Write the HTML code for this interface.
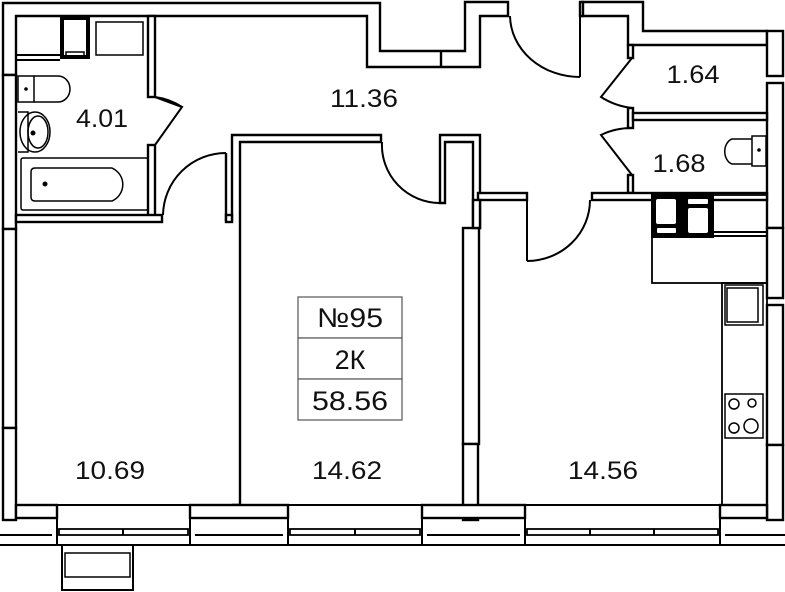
<!DOCTYPE html>
<html><head><meta charset="utf-8"><style>
html,body{margin:0;padding:0;background:#fff;}
svg{display:block;}
text{font-family:"Liberation Sans",sans-serif;fill:#111;}
</style></head><body>
<svg width="785" height="592" viewBox="0 0 785 592" xmlns="http://www.w3.org/2000/svg">
<g fill="#fff" stroke="#000" stroke-width="2.4">
<path d="M3,3 H380 V51 H465 V2 H508 V16 H480 V67 H367 V16 H16 V75 H3 Z"/>
<line x1="441" y1="51" x2="441" y2="67"/>
<path d="M582,2 H643 V31 H767 V45 H628 V16 H582 Z"/>
<rect x="580" y="2" width="3" height="14"/>
<rect x="767" y="31" width="16" height="45"/>
<rect x="767" y="83" width="16" height="145"/>
<rect x="767" y="228" width="16" height="70"/>
<rect x="767" y="305" width="16" height="140"/>
<rect x="767" y="445" width="16" height="75"/>
<rect x="3" y="75" width="13" height="154"/>
<rect x="3" y="229" width="13" height="199"/>
<rect x="3" y="428" width="13" height="92"/>
<rect x="148" y="16" width="7" height="81"/>
<rect x="148" y="145" width="7" height="75"/>
<rect x="16" y="215" width="146" height="7"/>
<path d="M226,153 V220 H232 V135 H381 V142 H240 V505 H232"/>
<rect x="226" y="215" width="6" height="7"/>
<path d="M440,135 H480 V228 H473 V142 H445 V203 H440 Z"/>
<rect x="463" y="228" width="16" height="216"/>
<rect x="463" y="444" width="15" height="76"/>
<rect x="628" y="45" width="5" height="13"/>
<rect x="628" y="108" width="5" height="20"/>
<rect x="633" y="113" width="134" height="7"/>
<rect x="628" y="175" width="5" height="18"/>
<rect x="478" y="193" width="49" height="7"/>
<rect x="592" y="193" width="175" height="7"/>
<rect x="473" y="200" width="7" height="28"/>
<rect x="16" y="505" width="41" height="13"/>
<rect x="190" y="505" width="98" height="13"/>
<rect x="422" y="505" width="103" height="13"/>
<rect x="720" y="505" width="47" height="13"/>
</g>
<g fill="none" stroke="#000" stroke-width="2">
<line x1="0" y1="545" x2="785" y2="545"/>
<line x1="0" y1="535" x2="52" y2="535"/>
<line x1="195" y1="535" x2="283" y2="535"/>
<line x1="427" y1="535" x2="520" y2="535"/>
<line x1="725" y1="535" x2="785" y2="535"/>
<line x1="16" y1="505" x2="767" y2="505"/>
<rect x="57" y="505" width="133" height="40"/>
<rect x="288" y="505" width="134" height="40"/>
<rect x="525" y="505" width="195" height="40"/>
<rect x="59" y="529" width="129" height="6" stroke-width="1.8"/>
<rect x="290" y="529" width="130" height="6" stroke-width="1.8"/>
<rect x="527" y="529" width="191" height="6" stroke-width="1.8"/>
<line x1="123" y1="529" x2="123" y2="535"/>
<line x1="355" y1="529" x2="355" y2="535"/>
<line x1="590" y1="529" x2="590" y2="535"/>
<line x1="654" y1="529" x2="654" y2="535"/>
<rect x="62" y="545" width="71" height="45"/>
<rect x="65" y="553" width="65" height="24" stroke-width="1.5"/>
<path d="M155,97 L182,107 L155,145"/>
<path d="M155,97 Q170,99 182,107"/>
<path d="M226,153 V220"/>
<path d="M226,153 A63,63 0 0 0 163,215"/>
<path d="M440,142 V203"/>
<path d="M382,142 A58,58 0 0 0 440,203"/>
<path d="M580,16 V77"/>
<path d="M510,16 A70,62 0 0 0 580,77"/>
<path d="M527,200 V261"/>
<path d="M527,261 A63,61 0 0 0 590,200"/>
<path d="M632,58 L601,97 Q615,106 632,108"/>
<path d="M632,128 Q615,128 601,135 L632,175"/>
<line x1="16" y1="55" x2="60" y2="55"/>
<line x1="16" y1="60" x2="60" y2="60"/>
<rect x="62" y="18" width="26" height="39" stroke-width="4"/>
<rect x="66" y="52" width="18" height="4" stroke-width="1.5"/>
<rect x="96" y="22" width="47" height="33" stroke-width="1.5"/>
<rect x="18" y="76" width="16" height="26" stroke-width="1.5"/>
<path d="M34,76 H58 A12,13 0 0 1 58,102 H34" stroke-width="1.5"/>
<ellipse cx="35" cy="132" rx="15" ry="20" stroke-width="1.5"/>
<ellipse cx="38" cy="132" rx="10" ry="16" stroke-width="1.5"/>
<path d="M18,112 H28 V152 H18" stroke-width="1.5"/>
<rect x="21" y="158" width="127" height="52" rx="2" stroke-width="1.5"/>
<path d="M35,168 H112 A18,18 0 0 1 112,201 H35 Q31,201 31,197 V172 Q31,168 35,168 Z" stroke-width="1.5"/>
<path d="M752,139 H732 A10,13 0 0 0 732,164 H752" stroke-width="1.5"/>
<rect x="752" y="136" width="14" height="30" stroke-width="1.5"/>
<rect x="652" y="195" width="115" height="88" stroke-width="1.8"/>
<rect x="652" y="195" width="61" height="42" fill="#000"/>
<line x1="713" y1="232" x2="767" y2="232"/>
<line x1="713" y1="236" x2="767" y2="236"/>
<rect x="722" y="283" width="45" height="222" stroke-width="1.8"/>
<rect x="725" y="285" width="38" height="40" stroke-width="1.5"/>
<rect x="727" y="288" width="31" height="34" stroke-width="1.5"/>
<rect x="725" y="394" width="38" height="44" stroke-width="1.5"/>
<circle cx="734" cy="404" r="5" stroke-width="1.5"/>
<circle cx="752" cy="403" r="4" stroke-width="1.5"/>
<circle cx="734" cy="428" r="5" stroke-width="1.5"/>
<circle cx="751" cy="426" r="7" stroke-width="1.5"/>
</g>
<g fill="#fff">
<rect x="656" y="199" width="20" height="25" rx="2"/>
<rect x="657" y="228" width="19" height="5" rx="1"/>
<rect x="688" y="199" width="20" height="5" rx="1"/>
<rect x="688" y="208" width="20" height="25" rx="2"/>
</g>
<circle cx="26" cy="89" r="1.8"/>
<circle cx="33" cy="133" r="2.5"/>
<circle cx="45" cy="184" r="2.5"/>
<circle cx="759" cy="150" r="1.8"/>
<g fill="#fff" stroke="#555" stroke-width="1.2">
<rect x="298" y="297" width="104" height="41"/>
<rect x="298" y="338" width="104" height="41"/>
<rect x="298" y="379" width="104" height="41"/>
</g>
<g font-size="27" text-anchor="middle">
<text x="350" y="327" textLength="66" lengthAdjust="spacingAndGlyphs">№95</text>
<text x="350" y="369">2К</text>
<text x="350" y="410" textLength="76" lengthAdjust="spacingAndGlyphs">58.56</text>
</g>
<g font-size="25" text-anchor="middle">
<text x="102" y="127" textLength="52" lengthAdjust="spacingAndGlyphs">4.01</text>
<text x="364" y="107" textLength="68" lengthAdjust="spacingAndGlyphs">11.36</text>
<text x="693" y="83" textLength="53" lengthAdjust="spacingAndGlyphs">1.64</text>
<text x="679" y="172" textLength="53" lengthAdjust="spacingAndGlyphs">1.68</text>
<text x="110" y="479" textLength="70" lengthAdjust="spacingAndGlyphs">10.69</text>
<text x="347" y="479" textLength="70" lengthAdjust="spacingAndGlyphs">14.62</text>
<text x="603" y="479" textLength="70" lengthAdjust="spacingAndGlyphs">14.56</text>
</g>
</svg>
</body></html>
